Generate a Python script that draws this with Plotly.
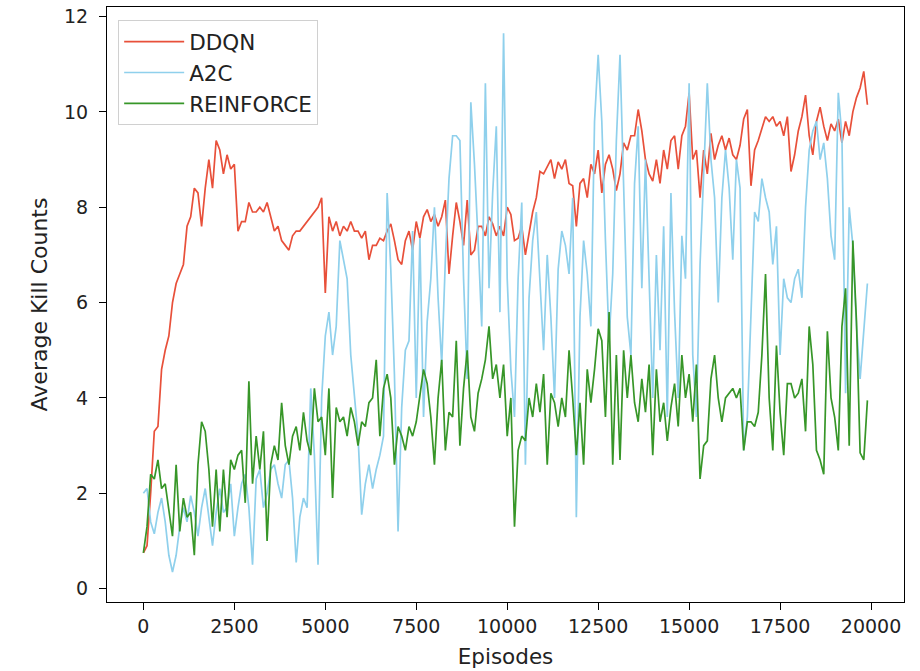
import plotly.graph_objects as go

episodes = list(range(0, 20000, 100))

ddqn = [
    0.75, 0.9, 2.0, 3.3, 3.4, 4.6, 5.0, 5.3, 6.0, 6.4,
    6.6, 6.8, 7.6, 7.8, 8.4, 8.3, 7.6, 8.4, 9.0, 8.4,
    9.4, 9.2, 8.7, 9.1, 8.8, 8.9, 7.5, 7.7, 7.7, 8.1,
    7.9, 7.9, 8.0, 7.9, 8.1, 7.8, 7.5, 7.6, 7.3, 7.2,
    7.1, 7.4, 7.5, 7.5, 7.6, 7.7, 7.8, 7.9, 8.0, 8.2,
    6.2, 7.8, 7.5, 7.7, 7.4, 7.6, 7.5, 7.7, 7.5, 7.5,
    7.35, 7.5, 6.9, 7.2, 7.2, 7.35, 7.3, 7.5, 7.65, 7.3,
    6.9, 6.8, 7.3, 7.5, 7.1, 7.7, 7.35, 7.8, 7.95, 7.7,
    7.85, 7.6, 7.8, 8.15, 6.6, 7.4, 8.1, 7.7, 7.2, 8.15,
    7.0, 7.1, 7.6, 7.6, 7.4, 7.8, 7.65, 7.4, 7.6, 7.4,
    8.0, 7.85, 7.3, 7.35, 7.6, 7.0, 7.5, 7.9, 8.2, 8.75,
    8.7, 8.85, 9.0, 8.6, 8.95, 8.8, 9.0, 8.5, 8.45, 7.6,
    8.5, 8.6, 8.2, 8.9, 8.7, 9.2, 8.3, 8.9, 9.1, 8.8,
    8.35, 8.7, 9.35, 9.2, 9.5, 9.5, 10.05, 9.6, 9.0, 8.7,
    8.55, 9.0, 8.5, 9.2, 8.8, 9.4, 9.5, 8.8, 9.5, 9.7,
    10.4, 9.0, 9.2, 8.2, 9.2, 8.7, 9.55, 9.0, 9.3, 9.5,
    9.2, 9.45, 9.1, 9.0, 9.3, 9.85, 10.05, 8.45, 9.2, 9.4,
    9.65, 9.9, 9.8, 9.9, 9.7, 9.8, 9.5, 9.9, 8.75, 9.1,
    9.6, 9.9, 10.35, 9.5, 9.1, 9.8, 10.1, 9.7, 9.4, 9.75,
    9.6, 9.85, 9.35, 9.8, 9.5, 10.0, 10.3, 10.5, 10.85, 10.15,
]

a2c = [
    2.0, 2.1, 1.4, 1.15, 1.6, 1.9, 1.4, 0.7, 0.35, 0.7,
    1.3, 1.7, 1.4, 1.95, 1.6, 1.1, 1.7, 2.1, 1.5, 0.9,
    1.6, 2.1, 1.6, 1.7, 2.2, 1.1, 1.7, 2.2, 2.4, 1.7,
    0.5, 2.3, 2.5, 1.7, 2.0, 2.5, 2.6, 2.2, 1.9, 2.6,
    2.7, 1.9, 0.55, 1.5, 1.9, 1.7, 4.2, 2.8, 0.5, 4.0,
    5.3, 5.8, 4.9, 5.5, 7.3, 6.9, 6.5, 4.9, 4.0, 3.2,
    1.55, 2.2, 2.6, 2.1, 2.5, 2.8, 3.2, 8.3, 6.7, 4.5,
    1.2, 3.8, 5.0, 5.2, 7.5, 4.0, 7.35, 3.6, 5.6, 6.5,
    8.0, 6.1, 4.7, 6.9, 8.6, 9.5, 9.5, 9.4, 6.5, 4.4,
    10.2, 8.9, 7.3, 5.5, 10.6, 6.3, 8.3, 9.7, 5.8, 11.65,
    6.5, 4.6, 3.6, 6.5, 8.1, 2.6, 6.1, 7.3, 7.9, 6.5,
    5.0, 7.0, 5.7, 4.0, 6.7, 7.5, 7.2, 6.6, 8.2, 1.5,
    5.7, 7.3, 6.6, 5.5, 9.8, 11.2, 9.8, 7.3, 5.2, 6.6,
    9.4, 11.2, 8.2, 5.7, 4.9, 8.5, 9.7, 6.3, 9.0, 6.6,
    4.0, 7.0, 5.0, 7.6, 3.6, 8.3, 5.8, 4.0, 7.4, 6.5,
    10.6, 4.9, 3.6, 6.8, 8.6, 10.6, 9.0, 8.2, 6.0, 8.2,
    9.2, 8.4, 6.9, 9.0, 8.4, 2.9, 3.6, 5.7, 7.9, 7.7,
    8.6, 8.2, 7.9, 6.8, 7.6, 4.9, 6.5, 6.1, 6.0, 6.5,
    6.7, 6.1, 8.0, 9.2, 9.6, 9.8, 9.0, 9.35, 8.6, 7.4,
    6.9, 10.4, 9.5, 4.1, 8.0, 7.2, 5.5, 4.4, 5.4, 6.4,
]

reinforce = [
    0.75, 1.3, 2.4, 2.3, 2.7, 2.1, 2.2, 1.7, 1.1, 2.6,
    1.2, 1.9, 1.5, 1.6, 0.7, 2.6, 3.5, 3.3, 2.5, 1.3,
    2.5, 1.2, 2.5, 1.5, 2.7, 2.5, 2.8, 2.9, 1.8, 4.35,
    2.2, 3.2, 2.5, 3.3, 1.0, 2.6, 3.0, 2.7, 3.9, 3.0,
    2.6, 3.2, 3.4, 2.9, 3.7, 3.1, 2.8, 4.2, 3.5, 3.6,
    2.8, 4.2, 1.9, 3.8, 3.5, 3.6, 3.2, 3.8, 3.5, 3.0,
    3.5, 3.4, 3.9, 4.0, 4.8, 3.2, 4.2, 4.5, 4.0, 2.6,
    3.4, 3.2, 2.9, 3.4, 3.2, 3.5, 4.0, 4.6, 4.3, 3.6,
    2.6, 4.0, 4.8, 2.9, 3.7, 3.6, 5.2, 3.0, 4.2, 5.0,
    3.6, 3.3, 4.1, 4.4, 4.8, 5.5, 4.4, 4.7, 4.0, 4.7,
    3.2, 4.0, 1.3, 2.9, 3.2, 3.1, 4.0, 3.6, 4.3, 3.7,
    4.5, 2.6, 4.1, 3.9, 3.4, 4.0, 3.6, 5.0, 4.0, 2.8,
    3.9, 2.6, 4.6, 3.9, 4.6, 5.45, 5.2, 3.6, 5.8, 2.6,
    4.9, 2.7, 5.0, 4.0, 4.9, 3.9, 3.5, 4.4, 3.7, 4.7,
    2.8, 4.6, 3.5, 3.9, 3.1, 3.8, 4.3, 3.4, 4.9, 4.0,
    4.5, 3.5, 4.7, 2.3, 3.0, 3.1, 4.4, 4.9, 4.0, 3.5,
    4.0, 4.1, 4.2, 4.0, 4.2, 2.9, 3.5, 3.5, 3.4, 3.7,
    4.9, 6.6, 4.0, 2.9, 5.1, 3.7, 2.8, 4.3, 4.3, 4.0,
    4.1, 4.4, 3.3, 5.5, 4.7, 2.9, 2.7, 2.4, 5.4, 4.0,
    3.6, 2.9, 5.5, 6.3, 3.0, 7.3, 5.6, 2.85, 2.7, 3.95,
]

x_ticks = [0, 2500, 5000, 7500, 10000, 12500, 15000, 17500, 20000]
x_tick_labels = ["0", "2500", "5000", "7500", "10000", "12500", "15000", "17500", "20000"]
y_ticks = [0, 2, 4, 6, 8, 10, 12]
y_tick_labels = ["0", "2", "4", "6", "8", "10", "12"]

series = [
    ("DDQN", ddqn, "#e8503a"),
    ("A2C", a2c, "#8fd0ec"),
    ("REINFORCE", reinforce, "#379628"),
]

fig = go.Figure()
for name, vals, color in series:
    fig.add_trace(go.Scatter(
        x=episodes, y=vals, mode="lines", name=name,
        line=dict(color=color, width=1.7),
    ))

font_family = "DejaVu Sans"
axis_common = dict(
    showline=True, linecolor="black", linewidth=1.2, mirror=True,
    ticks="outside", ticklen=7, tickwidth=1.2, tickcolor="black",
    showgrid=False, zeroline=False, automargin=False,
    tickfont=dict(family=font_family, size=19, color="#222222"),
)

fig.update_layout(
    width=920, height=671,
    margin=dict(l=107, r=16, t=7, b=69),
    paper_bgcolor="white", plot_bgcolor="white",
    font=dict(family=font_family, size=19, color="#222222"),
    xaxis=dict(
        **axis_common,
        range=[-1000, 20906],
        tickvals=x_ticks, ticktext=x_tick_labels,
        title=dict(text="Episodes", font=dict(family=font_family, size=21.5), standoff=13),
    ),
    yaxis=dict(
        **axis_common,
        range=[-0.28, 12.2],
        tickvals=y_ticks, ticktext=y_tick_labels,
        ticklabelstandoff=7,
        title=dict(text="Average Kill Counts", font=dict(family=font_family, size=22), standoff=10),
    ),
    legend=dict(
        x=0.014, y=0.978, xanchor="left", yanchor="top",
        bgcolor="rgba(255,255,255,0.9)", bordercolor="#d0d0d0", borderwidth=1,
        font=dict(family=font_family, size=21.5, color="#222222"),
        itemwidth=60,
    ),
    showlegend=True,
)

fig.write_html(
    "out.html",
    config={"displayModeBar": False},
    post_script="document.body.style.margin='0';",
)
